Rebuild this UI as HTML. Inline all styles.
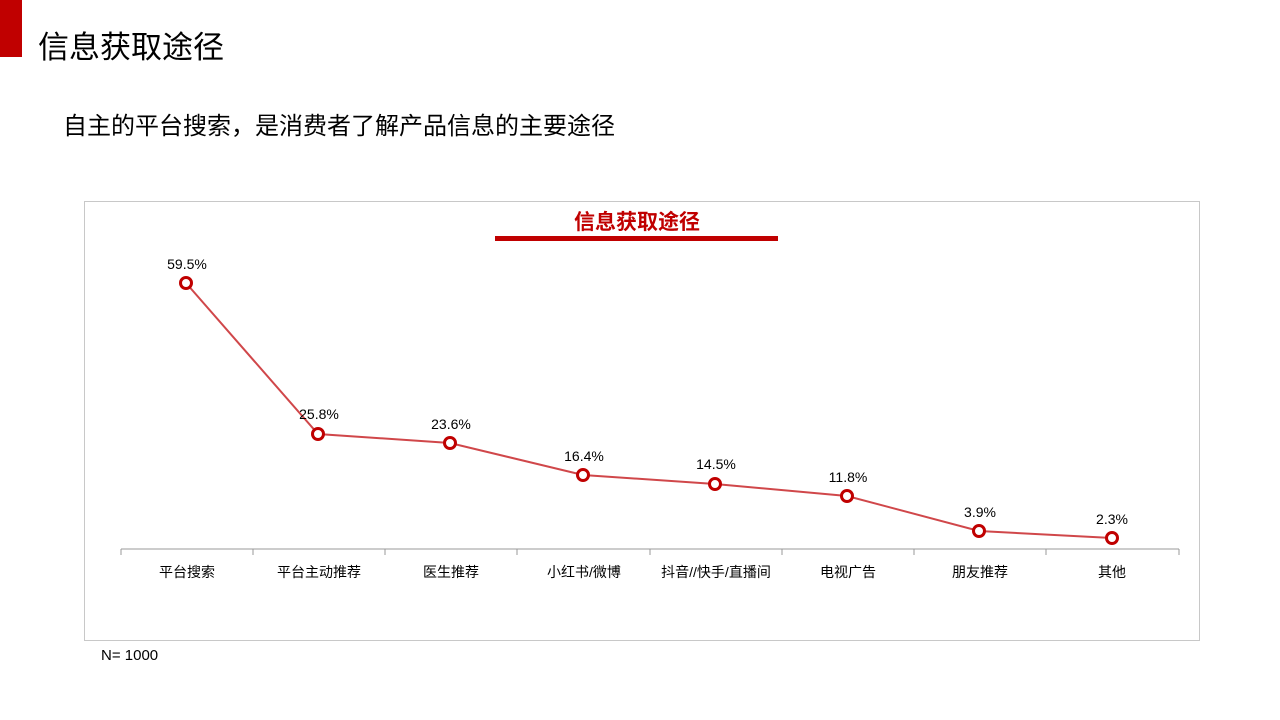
<!DOCTYPE html>
<html><head><meta charset="utf-8"><style>
body{margin:0;width:1280px;height:720px;background:#fff;overflow:hidden;position:relative;font-family:"Liberation Sans","Noto Sans CJK SC",sans-serif;}
.bar{position:absolute;left:0;top:0;width:22px;height:57px;background:#c00000;}
.t{position:absolute;left:38px;top:22px;font-size:31px;color:#000;}
.s{position:absolute;left:63px;top:106px;font-size:24px;color:#000;}
.box{position:absolute;left:84px;top:201px;width:1114px;height:438px;border:1px solid #c8c8c8;}
.n{position:absolute;left:101px;top:647px;font-size:15px;color:#000;}
</style></head><body>
<div class="bar"></div>
<div class="t">信息获取途径</div>
<div class="s">自主的平台搜索，是消费者了解产品信息的主要途径</div>
<div class="box"></div>
<svg width="1280" height="720" style="position:absolute;left:0;top:0" font-family="Liberation Sans, Noto Sans CJK SC, sans-serif">
<text x="637" y="229" text-anchor="middle" font-size="21" font-weight="bold" fill="#c00000">信息获取途径</text>
<rect x="495" y="236" width="283" height="5" fill="#c00000"/>
<line x1="121" y1="549" x2="1179" y2="549" stroke="#999" stroke-width="1"/>
<g stroke="#999">
<line x1="121" y1="549" x2="121" y2="555"/><line x1="253" y1="549" x2="253" y2="555"/><line x1="385" y1="549" x2="385" y2="555"/><line x1="517" y1="549" x2="517" y2="555"/><line x1="650" y1="549" x2="650" y2="555"/><line x1="782" y1="549" x2="782" y2="555"/><line x1="914" y1="549" x2="914" y2="555"/><line x1="1046" y1="549" x2="1046" y2="555"/><line x1="1179" y1="549" x2="1179" y2="555"/>
</g>
<polyline points="186,283 318,434 450,443 583,475 715,484 847,496 979,531 1112,538" fill="none" stroke="#d0474a" stroke-width="2"/>
<g fill="#fff" stroke="#c00000" stroke-width="3">
<circle cx="186" cy="283" r="5.5"/><circle cx="318" cy="434" r="5.5"/><circle cx="450" cy="443" r="5.5"/><circle cx="583" cy="475" r="5.5"/><circle cx="715" cy="484" r="5.5"/><circle cx="847" cy="496" r="5.5"/><circle cx="979" cy="531" r="5.5"/><circle cx="1112" cy="538" r="5.5"/>
</g>
<g font-size="14" fill="#000" text-anchor="middle">
<text x="187" y="269">59.5%</text><text x="319" y="419">25.8%</text><text x="451" y="429">23.6%</text><text x="584" y="461">16.4%</text><text x="716" y="469">14.5%</text><text x="848" y="482">11.8%</text><text x="980" y="517">3.9%</text><text x="1112" y="524">2.3%</text>
</g>
<g font-size="14" fill="#000" text-anchor="middle">
<text x="187" y="577">平台搜索</text><text x="319" y="577">平台主动推荐</text><text x="451" y="577">医生推荐</text><text x="584" y="577">小红书/微博</text><text x="716" y="577">抖音//快手/直播间</text><text x="848" y="577">电视广告</text><text x="980" y="577">朋友推荐</text><text x="1112" y="577">其他</text>
</g>
</svg>
<div class="n">N= 1000</div>
</body></html>
